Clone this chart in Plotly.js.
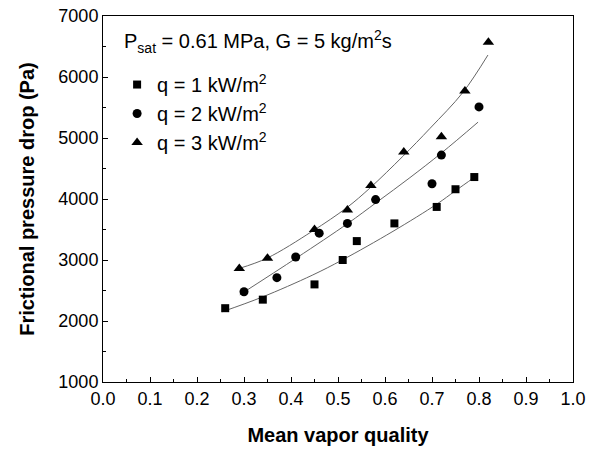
<!DOCTYPE html>
<html>
<head>
<meta charset="utf-8">
<script src="https://cdn.plot.ly/plotly-3.0.1.min.js"></script>
<style>html,body{margin:0;padding:0;background:#fff;}#chart{width:600px;height:453px;}</style>
</head>
<body>
<div id="chart"></div>
<script>
// Measured data
var x_q1 = [0.26, 0.34, 0.45, 0.51, 0.54, 0.62, 0.71, 0.75, 0.79];
var y_q1 = [2210, 2350, 2600, 3000, 3310, 3600, 3870, 4160, 4360];
var x_q2 = [0.30, 0.37, 0.41, 0.46, 0.52, 0.58, 0.70, 0.72, 0.80];
var y_q2 = [2480, 2710, 3050, 3440, 3600, 3990, 4250, 4720, 5510];
var x_q3 = [0.29, 0.35, 0.45, 0.52, 0.57, 0.64, 0.72, 0.77, 0.82];
var y_q3 = [2860, 3030, 3500, 3820, 4220, 4770, 5020, 5770, 6570];

// Fit curves
var fx_q1 = [0.253, 0.338, 0.445, 0.509, 0.617, 0.711, 0.749, 0.791];
var fy_q1 = [2150, 2390, 2750, 3000, 3470, 3920, 4130, 4360];
var fx_q2 = [0.291, 0.413, 0.521, 0.583, 0.653, 0.721, 0.798];
var fy_q2 = [2430, 3040, 3600, 3950, 4350, 4760, 5260];
var fx_q3 = [0.289, 0.349, 0.445, 0.519, 0.568, 0.638, 0.696, 0.766, 0.819];
var fy_q3 = [2860, 3030, 3470, 3860, 4180, 4700, 5160, 5750, 6360];

var seriesNames = ['q = 1 kW/m<sup>2</sup>', 'q = 2 kW/m<sup>2</sup>', 'q = 3 kW/m<sup>2</sup>'];
var symbols = ['square', 'circle', 'triangle-up'];
var sizes = [8, 9, 10];

var xs = [x_q1, x_q2, x_q3], ys = [y_q1, y_q2, y_q3];
var fxs = [fx_q1, fx_q2, fx_q3], fys = [fy_q1, fy_q2, fy_q3];

var traces = [];
for (var i = 0; i < 3; i++) {
  traces.push({
    x: fxs[i], y: fys[i], type: 'scatter', mode: 'lines',
    line: {color: '#666', width: 1, shape: 'spline', smoothing: 1},
    showlegend: false, hoverinfo: 'skip'
  });
}
for (var i = 0; i < 3; i++) {
  traces.push({
    x: xs[i], y: ys[i], type: 'scatter', mode: 'markers',
    name: seriesNames[i],
    marker: {symbol: symbols[i], size: sizes[i], color: '#000'}
  });
}

var layout = {
  width: 600, height: 453,
  margin: {l: 103, r: 27, t: 16, b: 71},
  paper_bgcolor: '#fff', plot_bgcolor: '#fff',
  font: {family: 'Liberation Sans, Arial, sans-serif', color: '#000', size: 18},
  xaxis: {
    range: [0, 1], dtick: 0.1, tickformat: '.1f',
    ticks: 'inside', ticklen: 5, tickwidth: 1, tickcolor: '#000',
    minor: {dtick: 0.05, ticks: 'inside', ticklen: 3, tickcolor: '#000'},
    showline: true, linecolor: '#000', linewidth: 1, mirror: true,
    showgrid: false, zeroline: false,
    tickfont: {size: 18},
    title: {text: '<b>Mean vapor quality</b>', font: {size: 20}, standoff: 20}
  },
  yaxis: {
    range: [1000, 7000], dtick: 1000,
    ticks: 'inside', ticklen: 5, tickwidth: 1, tickcolor: '#000',
    minor: {dtick: 500, ticks: 'inside', ticklen: 3, tickcolor: '#000'},
    showline: true, linecolor: '#000', linewidth: 1, mirror: true,
    showgrid: false, zeroline: false,
    tickfont: {size: 18},
    title: {text: '<b>Frictional pressure drop (Pa)</b>', font: {size: 20}, standoff: 18}
  },
  legend: {
    x: 0.03, y: 0.866, xanchor: 'left', yanchor: 'top',
    bgcolor: 'rgba(0,0,0,0)', font: {size: 20},
    itemwidth: 30
  },
  annotations: [{
    xref: 'paper', yref: 'paper', x: 0.04, y: 0.93, xanchor: 'left', yanchor: 'middle',
    text: 'P<sub>sat</sub> = 0.61 MPa, G = 5 kg/m<sup>2</sup>s', showarrow: false,
    font: {size: 20}
  }],
  showlegend: true
};

Plotly.newPlot('chart', traces, layout, {displayModeBar: false, staticPlot: true});
</script>
</body>
</html>
